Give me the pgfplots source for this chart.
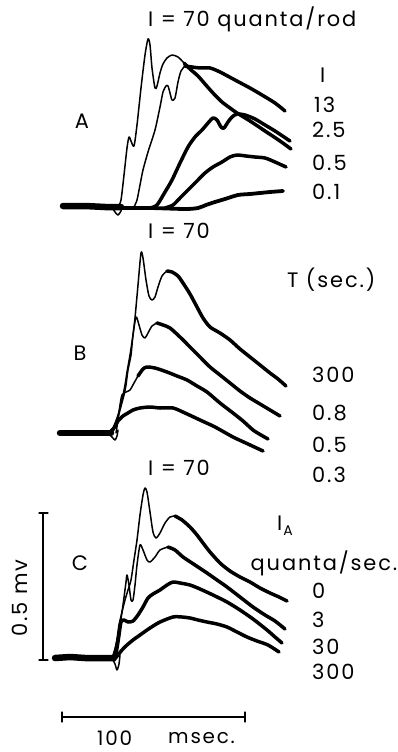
\documentclass[border=0pt]{standalone}
\usepackage{pgfplots}
\pgfplotsset{compat=1.18}
\usepackage{fontspec}
\setmainfont{Poppins}[LetterSpace=9]
\tikzset{
  thin trace/.style={line width=1.5bp, smooth, tension=0.45},
  thick trace/.style={line width=3.5bp, smooth, tension=0.45},
  lab/.style={font=\fontsize{21}{24}\selectfont, inner sep=0pt},
}
\begin{document}
\begin{tikzpicture}
\begin{axis}[
  scale only axis, width=397bp, height=752bp,
  xmin=0, xmax=397, ymin=0, ymax=752, y dir=reverse,
  hide axis, clip=false,
  every axis plot/.append style={black, line cap=round, line join=round},
]
\addplot[draw=none] coordinates {(0,0) (397,752)};
% ---------------- Panel A ----------------
\addplot[line width=6.5bp] coordinates {(63,206) (85,206) (105,207) (121,207)};
\addplot[thin trace] coordinates {(112,207) (115,212) (118,215) (121,211) (122,207)};
% I = 70
\addplot[thin trace] coordinates {(118,207) (121,200) (124,175) (127,148) (129,137) (131,141) (134,146) (137,125) (141,88) (145,55) (148,39) (150,45) (152,68) (155,88) (157,86) (160,73) (163,64) (167,58) (172,55) (178,57) (184,63)};
\addplot[thick trace] coordinates {(184,63) (190,69) (198,76) (205,84) (213,93) (222,102) (230,108) (237,113) (250,121) (265,131) (280,141) (291,149)};
% I = 13
\addplot[thin trace] coordinates {(134,207) (137,200) (140,185) (143,170) (148,152) (155,130) (160,107) (163,92) (166,86) (168,86) (170,93) (172,100) (175,98) (178,82) (181,71) (185,66)};
\addplot[thick trace] coordinates {(185,66) (192,67) (200,68) (210,68) (220,72) (235,80) (250,88) (262,95) (275,103) (285,111)};
% I = 2.5
\addplot[thick trace] coordinates {(150,208) (157,205) (165,192) (172,180) (180,163) (188,147) (195,137) (202,130) (208,123) (213,118) (217,120) (221,127) (224,128) (228,122) (232,117) (237,114) (245,115) (255,119) (265,125) (275,131) (290,141)};
% I = 0.5
\addplot[thick trace] coordinates {(165,208) (173,205) (180,198) (188,190) (197,181) (205,173) (213,167) (222,162) (230,157) (237,155) (246,156) (255,157) (265,158) (275,162) (286,167)};
% I = 0.1
\addplot[line width=3.8bp, smooth, tension=0.45] coordinates {(115,208) (150,208) (185,209) (198,208) (206,205) (215,202) (225,199) (238,195) (250,194) (260,193) (270,192) (283,191)};
\node[lab, anchor=west] at (axis cs:148,19) {I = 70 quanta/rod};
\node[lab] at (axis cs:82,121) {A};
\node[lab, anchor=west] at (axis cs:320,75) {I};
\node[lab, anchor=west] at (axis cs:314,105) {13};
\node[lab, anchor=west] at (axis cs:312,130) {2.5};
\node[lab, anchor=west] at (axis cs:312,163) {0.5};
\node[lab, anchor=west] at (axis cs:312,192) {0.1};
% ---------------- Panel B ----------------
\addplot[line width=6.5bp] coordinates {(60,433) (80,433) (100,433) (111,433)};
\addplot[thin trace] coordinates {(108,433) (112,437) (115,440) (117,436) (118,430)};
% T = 300
\addplot[thin trace] coordinates {(108,433) (113,428) (118,415) (122,400) (125,385) (127,372) (130,355) (133,335) (135,318) (138,285) (141,253) (143,258) (146,280) (149,296) (152,300) (155,297) (158,287) (162,276) (167,271)};
\addplot[thick trace] coordinates {(167,271) (172,272) (178,276) (183,283) (190,294) (197,307) (203,318) (210,327) (220,333) (230,340) (240,349) (250,357) (260,365) (270,373) (278,379) (286,386)};
% T = 0.8
\addplot[thin trace] coordinates {(112,433) (116,425) (120,410) (124,395) (126,385) (128,370) (131,355) (133,335) (136,317) (139,325) (142,335) (145,338) (148,333) (152,326) (157,323)};
\addplot[thick trace] coordinates {(157,323) (163,325) (170,328) (180,337) (190,347) (200,357) (210,367) (220,375) (230,383) (240,391) (250,398) (260,404) (270,410) (280,416)};
% T = 0.5
\addplot[thin trace] coordinates {(116,433) (118,420) (120,405) (122,395) (126,392) (130,390) (134,383) (138,376)};
\addplot[thick trace] coordinates {(138,376) (143,369) (147,367) (155,368) (167,372) (177,376) (187,380) (197,386) (207,392) (220,403) (233,413) (243,421) (253,430) (261,435) (268,439)};
% T = 0.3
\addplot[thick trace] coordinates {(110,432) (114,428) (118,421) (123,416) (128,413) (133,410) (140,408) (150,407) (160,408) (173,408) (185,413) (200,420) (215,427) (233,437) (248,444) (263,451)};
\node[lab, anchor=west] at (axis cs:148,231) {I = 70};
\node[lab] at (axis cs:80,353) {B};
\node[lab, anchor=west] at (axis cs:287,280) {T (sec.)};
\node[lab, anchor=west] at (axis cs:312,375) {300};
\node[lab, anchor=west] at (axis cs:312,413) {0.8};
\node[lab, anchor=west] at (axis cs:312,445) {0.5};
\node[lab, anchor=west] at (axis cs:312,475) {0.3};
% ---------------- Panel C ----------------
\addplot[line width=6.5bp] coordinates {(55,658) (70,657) (85,658) (100,658) (113,658)};
\addplot[thin trace] coordinates {(112,658) (115,664) (117,670) (119,664) (120,655)};
% I_A = 0
\addplot[thin trace] coordinates {(112,658) (116,645) (119,625) (122,612) (125,600) (128,590) (131,580) (134,560) (137,540) (140,515) (143,495) (145,488) (147,492) (150,512) (153,532) (156,538) (160,533) (165,523) (170,517) (175,516)};
\addplot[thick trace] coordinates {(175,516) (182,520) (190,527) (197,535) (203,543) (210,552) (220,563) (230,571) (240,577) (250,582) (260,588) (270,593) (279,597) (287,601)};
% I_A = 3
\addplot[thin trace] coordinates {(113,658) (117,640) (120,625) (123,605) (126,582) (127,575) (129,585) (131,600) (133,600) (135,585) (137,565) (140,545) (143,550) (147,560) (150,562) (155,557) (160,550) (168,547)};
\addplot[thick trace] coordinates {(168,547) (175,550) (183,557) (195,565) (207,573) (217,580) (227,587) (240,597) (253,607) (265,615) (275,621) (285,629)};
% I_A = 30
\addplot[thick trace] coordinates {(115,658) (117,648) (119,635) (121,622) (124,620) (128,622) (133,621) (138,615) (143,607) (148,598) (153,594) (160,590) (167,585) (173,582) (180,583) (190,585) (200,589) (213,595) (227,602) (240,610) (253,619) (267,630) (275,637) (282,643)};
% I_A = 300
\addplot[thick trace] coordinates {(114,660) (118,655) (122,650) (127,645) (133,640) (140,635) (150,628) (160,622) (173,617) (182,617) (190,618) (198,620) (207,622) (217,624) (227,627) (237,632) (247,637) (257,641) (268,645) (279,652)};
% scale bars
\addplot[line width=1.3bp] coordinates {(43,513) (43,660)};
\addplot[line width=1.3bp] coordinates {(39,513) (48,513)};
\addplot[line width=1.3bp] coordinates {(39,660) (48,660)};
\addplot[line width=1.3bp] coordinates {(62,717) (245,717)};
\addplot[line width=1.3bp] coordinates {(62,712) (62,722)};
\addplot[line width=1.3bp] coordinates {(245,712) (245,722)};
\node[lab, anchor=west] at (axis cs:148,468) {I = 70};
\node[lab] at (axis cs:80,563) {C};
\node[lab, anchor=west] at (axis cs:277,526) {I\kern1bp\raisebox{-0.45ex}{\fontsize{14}{15}\selectfont A}};
\node[lab] at (axis cs:324,563) {quanta/sec.};
\node[lab, anchor=west] at (axis cs:312,591) {0};
\node[lab, anchor=west] at (axis cs:312,620) {3};
\node[lab, anchor=west] at (axis cs:312,647) {30};
\node[lab, anchor=west] at (axis cs:312,672) {300};
\node[lab, rotate=90] at (axis cs:20,598) {0.5 mv};
\node[lab, anchor=west, font=\fontsize{20}{22}\selectfont] at (axis cs:97,738) {100};
\node[lab, anchor=west, font=\fontsize{20}{22}\selectfont] at (axis cs:168,738) {msec.};
\end{axis}
\end{tikzpicture}
\end{document}
